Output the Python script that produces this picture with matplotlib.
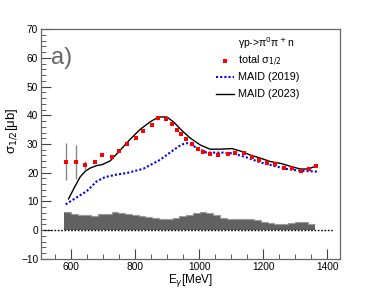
import numpy as np
import matplotlib
matplotlib.use('Agg')
import matplotlib.pyplot as plt

plt.rcParams['font.family'] = ['Liberation Sans', 'DejaVu Sans']

# total sigma_1/2 data points
e_data = [583, 615, 645, 674, 697, 727, 750, 776, 802, 826, 852, 873, 896, 915, 930,
          944, 958, 977, 995, 1013, 1034, 1060, 1090, 1112, 1141, 1165, 1188, 1211,
          1238, 1265, 1291, 1317, 1342, 1365]
s_data = [23.9, 23.6, 22.6, 23.6, 26.1, 25.6, 27.5, 29.9, 32.2, 34.4, 36.6, 39.2, 38.6,
          36.9, 34.9, 33.6, 31.7, 29.9, 28.4, 27.3, 26.4, 26.2, 26.4, 27.0, 27.0, 25.6,
          24.5, 23.4, 22.9, 21.8, 21.8, 20.7, 21.3, 22.2]
s_err = [6.4, 5.9, 1.5] + [0.0] * 31

# MAID (2019)
e_m19 = [583, 649, 680, 706, 740, 774, 826, 878, 920, 945, 962, 982, 1024, 1076, 1107,
         1149, 1191, 1233, 1274, 1316, 1368]
s_m19 = [9.0, 13.6, 17.0, 18.5, 19.3, 19.9, 21.4, 24.5, 27.9, 29.8, 30.3, 29.3, 27.0,
         27.0, 26.7, 25.3, 23.6, 22.4, 21.3, 20.7, 20.4]

# MAID (2023)
e_m23 = [592, 610, 628, 644, 659, 680, 696, 722, 753, 784, 816, 847, 873, 899, 920, 946,
         972, 1003, 1034, 1066, 1102, 1128, 1159, 1191, 1222, 1253, 1290, 1316, 1342, 1365]
s_m23 = [10.9, 14.8, 18.5, 20.5, 21.6, 22.5, 22.8, 24.1, 27.8, 31.6, 35.1, 37.7, 39.4,
         39.4, 37.7, 34.7, 32.1, 29.7, 28.2, 28.2, 28.4, 27.6, 26.2, 25.1, 23.9, 23.3,
         22.1, 21.3, 21.3, 22.4]

# systematic errors (histogram)
sys_edges = np.linspace(578, 1362, 38)
sys_vals = [6.2, 5.7, 5.2, 5.4, 5.1, 5.5, 5.7, 6.3, 6.1, 5.7, 5.2, 5.0, 4.6, 4.3, 4.0,
            4.0, 4.2, 5.0, 5.4, 6.0, 6.3, 6.1, 5.3, 4.4, 4.0, 3.8, 3.8, 3.8, 3.5, 2.8,
            2.5, 2.1, 2.3, 2.4, 2.9, 2.8, 2.3]

zero_x = [515, 1420]

fig = plt.figure(figsize=(3.74, 2.88), dpi=100)
ax = fig.add_axes([0.1096, 0.1007, 0.7994, 0.7986])

ax.stairs(sys_vals, sys_edges, fill=True, color='#616161', lw=0)
ax.stairs(sys_vals, sys_edges, color='#9a9a9a', lw=0.8, baseline=None)
ax.plot(zero_x, [0, 0], color='black', lw=1.0, ls=(0, (1.2, 1.2)))

ax.plot(e_m19, s_m19, color='#0000ff', lw=1.5, ls=(0, (1, 1)))
ax.plot(e_m23, s_m23, color='black', lw=1.0)
ax.errorbar(e_data, s_data, yerr=s_err, fmt='none', ecolor='#888888', elinewidth=1.0)
ax.plot(e_data, s_data, 's', color='#ff0000', ms=3.2, mew=0)

ax.set_xlim(506, 1440)
ax.set_ylim(-10, 70)
ax.set_xticks([600, 800, 1000, 1200, 1400])
ax.set_xticks(np.arange(550, 1440, 50), minor=True)
ax.set_yticks(np.arange(-10, 71, 10))
ax.set_yticks(np.arange(-10, 71, 2), minor=True)
ax.tick_params(which='both', direction='in', top=False, right=False, labelsize=7.3,
               color='#444444', pad=2)
ax.tick_params(which='major', length=7)
ax.tick_params(which='minor', length=3.5)
for sp in ax.spines.values():
    sp.set_color('#666666')
    sp.set_linewidth(0.9)

ax.set_xlabel('E$_{\\gamma}$[MeV]', fontsize=8.5, labelpad=0)
ax.set_ylabel('σ$_{1/2}$[μb]', fontsize=9.5)
ax.yaxis.set_label_coords(-0.07, 0.56)

ax.text(0.035, 0.875, 'a)', transform=ax.transAxes, fontsize=17, color='#666666',
        va='center', ha='left')

# legend
lx = 0.66
ax.text(lx, 0.94, 'γp->π$^0$π$^+$n', transform=ax.transAxes, fontsize=7.5, va='center')
ax.plot([0.615], [0.862], 's', color='#ff0000', ms=3.2, mew=0, transform=ax.transAxes)
ax.text(lx, 0.862, 'total σ$_{1/2}$', transform=ax.transAxes, fontsize=7.8, va='center')
ax.plot([0.585, 0.645], [0.79, 0.79], color='#0000ff', lw=1.5, ls=(0, (1, 1)),
        transform=ax.transAxes)
ax.text(lx, 0.79, 'MAID (2019)', transform=ax.transAxes, fontsize=7.8, va='center')
ax.plot([0.585, 0.645], [0.717, 0.717], color='black', lw=1.0, transform=ax.transAxes)
ax.text(lx, 0.717, 'MAID (2023)', transform=ax.transAxes, fontsize=7.8, va='center')

fig.savefig('out.png', dpi=100)
